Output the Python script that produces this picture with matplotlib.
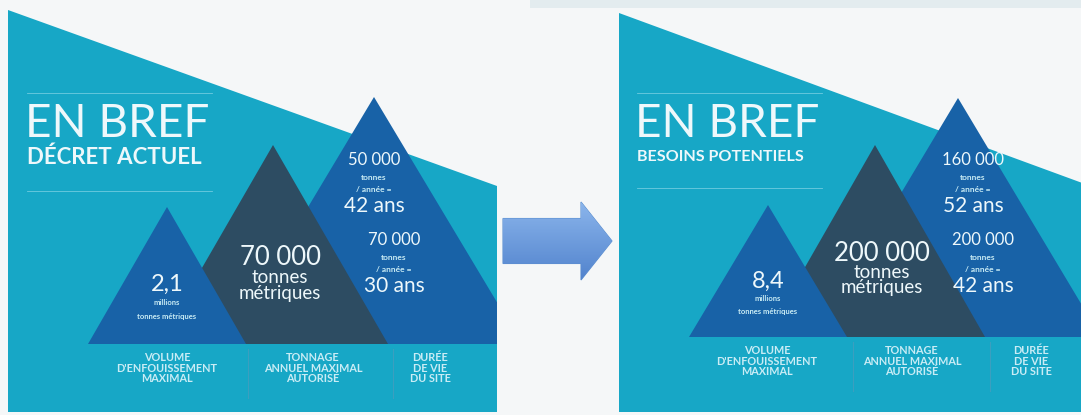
import numpy as np
import matplotlib.pyplot as plt
from matplotlib.colors import LinearSegmentedColormap
from matplotlib.patches import Polygon, FancyArrow

# --- content ---
titles = ["EN BREF", "EN BREF"]
subtitles = ["DÉCRET ACTUEL", "BESOINS POTENTIELS"]
volume_values = ["2,1", "8,4"]
tonnage_values = ["70 000", "200 000"]
duree_rates = [["50 000", "70 000"], ["160 000", "200 000"]]
duree_years = [["42 ans", "30 ans"], ["52 ans", "42 ans"]]
column_labels = ["VOLUME\nD'ENFOUISSEMENT\nMAXIMAL",
                 "TONNAGE\nANNUEL MAXIMAL\nAUTORISÉ",
                 "DURÉE\nDE VIE\nDU SITE"]

# --- layout (pixel coords, y down) ---
panels = [
    dict(x0=8, x1=497, top_l=10, top_r=186, bottom=412, base=344,
         small=(167, 207, 79), mid=(273, 145, 115), tall=(374, 97, 148),
         title_x=27, rule_y=(93, 191), sub_size=16,
         label_x=(167, 313, 430), sep_x=(248, 393), dur_x=(374, 394)),
    dict(x0=619, x1=1085, top_l=13, top_r=184, bottom=412, base=337,
         small=(768, 205, 79), mid=(875, 145, 110), tall=(958, 98, 143),
         title_x=637, rule_y=(93, 188), sub_size=11.6,
         label_x=(767, 912, 1031), sep_x=(853, 990), dur_x=(973, 983)),
]

TEAL = "#17a7c6"
BLUE = "#1862a7"
SLATE = "#2d4c62"
WHITE = "#eef8fb"
PALE = "#c9ecf5"

fig = plt.figure(figsize=(10.81, 4.15), dpi=100)
fig.patch.set_facecolor("#f5f7f8")
ax = fig.add_axes([0, 0, 1, 1])
ax.axis("off")

# faint band along the top
ax.add_patch(plt.Rectangle((530, 0), 551, 8, color="#e3ecef", lw=0))


def tri(cx, apex, half, base, color, clip):
    p = Polygon([(cx - half, base), (cx, apex), (cx + half, base)], closed=True,
                color=color, lw=0)
    ax.add_patch(p)
    p.set_clip_path(clip)


for i, pn in enumerate(panels):
    bg = Polygon([(pn["x0"], pn["top_l"]), (pn["x1"], pn["top_r"]),
                  (pn["x1"], pn["bottom"]), (pn["x0"], pn["bottom"])],
                 closed=True, color=TEAL, lw=0)
    ax.add_patch(bg)
    clip = plt.Rectangle((pn["x0"], 0), pn["x1"] - pn["x0"], 415, transform=ax.transData)

    cx, ap, hw = pn["tall"]
    tri(cx, ap, hw, pn["base"], BLUE, clip)
    cx, ap, hw = pn["mid"]
    tri(cx, ap, hw, pn["base"], SLATE, clip)
    cx, ap, hw = pn["small"]
    tri(cx, ap, hw, pn["base"], BLUE, clip)

    # title block
    for ry in pn["rule_y"]:
        ax.plot([pn["title_x"], pn["title_x"] + 185], [ry, ry], color="#6fcbe0", lw=0.6)
    ax.text(pn["title_x"] - 2, 124, titles[i], color=WHITE, fontsize=33,
            fontfamily="Lato", va="center", ha="left")
    ax.text(pn["title_x"], 157, subtitles[i], color=WHITE, fontsize=pn["sub_size"],
            fontfamily="Lato", fontweight="bold", va="center", ha="left")

    # volume
    sx = pn["small"][0]
    ax.text(sx, 284 - 3 * i, volume_values[i], color=WHITE, fontsize=17,
            fontfamily="Lato", ha="center", va="center")
    ax.text(sx, 302 - 4 * i, "millions", color=PALE, fontsize=5.5,
            fontfamily="Lato", fontweight="bold", ha="center", va="center")
    ax.text(sx, 316 - 5 * i, "tonnes métriques", color=PALE, fontsize=5.5,
            fontfamily="Lato", fontweight="bold", ha="center", va="center")

    # tonnage
    mx = pn["mid"][0] + 7
    ax.text(mx, 257 - 4 * i, tonnage_values[i], color=WHITE, fontsize=18.5,
            fontfamily="Lato", ha="center", va="center")
    ax.text(mx, 277 - 5 * i, "tonnes", color=WHITE, fontsize=13.5,
            fontfamily="Lato", ha="center", va="center")
    ax.text(mx, 293 - 6 * i, "métriques", color=WHITE, fontsize=13.5,
            fontfamily="Lato", ha="center", va="center")

    # duree
    for k, yy in enumerate([160, 240]):
        x = pn["dur_x"][k]
        ax.text(x, yy, duree_rates[i][k], color=WHITE, fontsize=12,
                fontfamily="Lato", ha="center", va="center")
        ax.text(x, yy + 17, "tonnes", color=PALE, fontsize=6,
                fontfamily="Lato", fontweight="bold", ha="center", va="center")
        ax.text(x, yy + 29, "/ année =", color=PALE, fontsize=6,
                fontfamily="Lato", fontweight="bold", ha="center", va="center")
        ax.text(x, yy + 46, duree_years[i][k], color=WHITE, fontsize=15,
                fontfamily="Lato", ha="center", va="center")

    # column labels
    for lx, lab in zip(pn["label_x"], column_labels):
        ax.text(lx, pn["base"] + 24, lab, color=PALE, fontsize=7.8, fontfamily="Lato",
                fontweight="bold", ha="center", va="center", linespacing=0.9)
    for sxp in pn["sep_x"]:
        ax.plot([sxp, sxp], [pn["base"] + 5, pn["base"] + 54], color="#3b9fbf", lw=0.8)

# arrow between the two panels, filled with a vertical gradient
arrow = FancyArrow(503, 241, 78, 0, width=45, head_width=78, head_length=31,
                   length_includes_head=False, fc="none", ec="#5b8fd0", lw=0.8)
ax.add_patch(arrow)
grad = np.linspace(0, 1, 100).reshape(-1, 1)
cmap = LinearSegmentedColormap.from_list("arr", ["#8cb6ec", "#4f81cc"])
img = ax.imshow(grad, extent=(500, 616, 284, 200), cmap=cmap, aspect="auto", zorder=1)
img.set_clip_path(arrow)

ax.set_xlim(0, 1081)
ax.set_ylim(415, 0)

fig.savefig("out.png", dpi=100, facecolor=fig.get_facecolor())
